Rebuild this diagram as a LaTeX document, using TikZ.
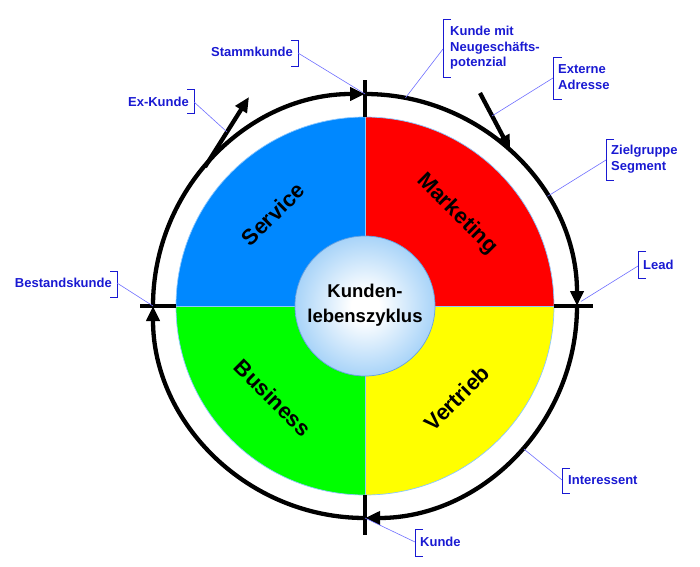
\documentclass[tikz,border=0pt]{standalone}
\usepackage{fontspec}
\setmainfont{Liberation Sans}
\usetikzlibrary{arrows.meta}
\definecolor{svcblue}{RGB}{0,136,255}
\definecolor{mkred}{RGB}{255,0,0}
\definecolor{vtyellow}{RGB}{255,255,0}
\definecolor{bsgreen}{RGB}{0,255,0}
\definecolor{lblblue}{RGB}{25,25,210}
\definecolor{leadblue}{RGB}{110,110,255}
\definecolor{edgeblue}{RGB}{140,200,255}
\definecolor{hubblue}{RGB}{125,190,245}
\definecolor{hubedge}{RGB}{100,160,225}
\pgfdeclareradialshading{hubshade}{\pgfpoint{0bp}{0bp}}{color(0bp)=(white); color(5bp)=(white); color(35bp)=(hubblue); color(50bp)=(hubblue)}
\begin{document}
\begin{tikzpicture}[x=1pt,y=1pt,
  lbl/.style={font=\fontsize{13}{15.5}\selectfont\bfseries, text=lblblue, inner sep=0pt, align=left},
  brk/.style={draw=lblblue, line width=0.8pt},
  leader/.style={draw=leadblue, line width=0.6pt},
  ring/.style={line width=4.3pt},
  tick/.style={line width=4.3pt},
  tip/.style={-{Triangle[length=15pt,width=13pt]}},
  sector/.style={draw=edgeblue, line width=0.7pt},
  seclbl/.style={font=\fontsize{22}{24}\selectfont\bfseries, inner sep=0pt}
]
\useasboundingbox (0,0) rectangle (700,566);
\coordinate (C) at (365,260);

% sectors
\fill[svcblue] (C) -- ++(180:189) arc (180:90:189) -- cycle;
\fill[mkred] (C) -- ++(90:189) arc (90:0:189) -- cycle;
\fill[vtyellow] (C) -- ++(0:189) arc (0:-90:189) -- cycle;
\fill[bsgreen] (C) -- ++(-90:189) arc (-90:-180:189) -- cycle;
\draw[sector] (C) circle (189);
\draw[sector] ([shift={(180:189)}]C) -- ([shift={(0:189)}]C);
\draw[sector] ([shift={(90:189)}]C) -- ([shift={(-90:189)}]C);

% sector labels
\node[seclbl, rotate=45] (svc) at ([shift={(135:130)}]C) {Service};
\node[seclbl, rotate=-45] (mkt) at ([shift={(45:130)}]C) {Marketing};
\node[seclbl, rotate=45] (vtr) at ([shift={(-45:130)}]C) {Vertrieb};
\node[seclbl, rotate=-45] (bus) at ([shift={(-135:130)}]C) {Business};

% hub
\shade[shading=hubshade] (C) circle (70);
\draw[hubedge, line width=0.7pt] (C) circle (70);
\node[font=\fontsize{18.5}{25}\selectfont\bfseries, align=center, inner sep=0pt] (hub) at ([yshift=1pt]C) {Kunden-\\lebenszyklus};

% ticks
\draw[tick] ([shift={(90:189)}]C) -- ([shift={(90:226)}]C);
\draw[tick] ([shift={(0:189)}]C) -- ([shift={(0:228)}]C);
\draw[tick] ([shift={(-90:189)}]C) -- ([shift={(-90:229)}]C);
\draw[tick] ([shift={(180:189)}]C) -- ([shift={(180:225)}]C);

% ring arcs
\draw[ring, tip] ([shift={(180:212)}]C) arc (180:90:212);
\draw[ring, tip] ([shift={(90:212)}]C) arc (90:0:212);
\draw[ring, tip] ([shift={(0:212)}]C) arc (0:-90:212);
\draw[ring, tip] ([shift={(270:212)}]C) arc (270:180:212);

% branch arrows
\coordinate (exstart) at ([shift={(139:212)}]C);
\coordinate (exend) at (249,469);
\draw[ring, tip] (exstart) -- coordinate[pos=0.5] (exmid) (exend);
\coordinate (eastart) at (480,473);
\coordinate (eaend) at ([shift={(47:213)}]C);
\draw[ring, tip] (eastart) -- coordinate[pos=0.4] (eamid) (eaend);

% target points on ring
\coordinate (pTop) at ([shift={(90:212)}]C);
\coordinate (pNeu) at ([shift={(79:212)}]C);
\coordinate (pZiel) at ([shift={(31:213)}]C);
\coordinate (pLead) at ([shift={(1.2:216)}]C);
\coordinate (pInt) at ([shift={(-42:214)}]C);
\coordinate (pBot) at ([shift={(-90:212)}]C);
\coordinate (pLeft) at ([shift={(180:212)}]C);

% labels
\node[lbl, anchor=east] (stamm) at (293,514) {Stammkunde};
\draw[brk] (291,526) -- (298,526) -- (298,500) -- (291,500);
\coordinate (bStamm) at (298,513);
\draw[leader] (bStamm) -- (pTop);

\node[lbl, anchor=west] (neu) at (450,518) {Kunde mit\\Neugeschäfts-\\potenzial};
\draw[brk] (451,547) -- (443,547) -- (443,489) -- (451,489);
\coordinate (bNeu) at (443,517);
\draw[leader] (bNeu) -- (pNeu);

\node[lbl, anchor=west] (ext) at (558,489) {Externe\\Adresse};
\draw[brk] (562,509) -- (553,509) -- (553,467) -- (562,467);
\coordinate (bExt) at (553,488);
\draw[leader] (bExt) -- (eamid);

\node[lbl, anchor=west] (ziel) at (611,407) {Zielgruppe\\Segment};
\draw[brk] (614,427) -- (606,427) -- (606,386) -- (614,386);
\coordinate (bZiel) at (606,406);
\draw[leader] (bZiel) -- (pZiel);

\node[lbl, anchor=west] (lead) at (643,301) {Lead};
\draw[brk] (646,315) -- (638,315) -- (638,288) -- (646,288);
\coordinate (bLead) at (638,300);
\draw[leader] (bLead) -- (pLead);

\node[lbl, anchor=west] (inter) at (568,86) {Interessent};
\draw[brk] (570,98) -- (562,98) -- (562,73) -- (570,73);
\coordinate (bInt) at (562,86);
\draw[leader] (bInt) -- (pInt);

\node[lbl, anchor=west] (kunde) at (420,24) {Kunde};
\draw[brk] (423,37) -- (415,37) -- (415,10) -- (423,10);
\coordinate (bKunde) at (415,24);
\draw[leader] (bKunde) -- (pBot);

\node[lbl, anchor=east] (bestand) at (112,283) {Bestandskunde};
\draw[brk] (110,295) -- (117,295) -- (117,269) -- (110,269);
\coordinate (bBest) at (117,283);
\draw[leader] (bBest) -- (pLeft);

\node[lbl, anchor=east] (exk) at (189,464) {Ex-Kunde};
\draw[brk] (187,477) -- (194,477) -- (194,453) -- (187,453);
\coordinate (bEx) at (194,464);
\draw[leader] (bEx) -- (exmid);
\end{tikzpicture}
\end{document}
